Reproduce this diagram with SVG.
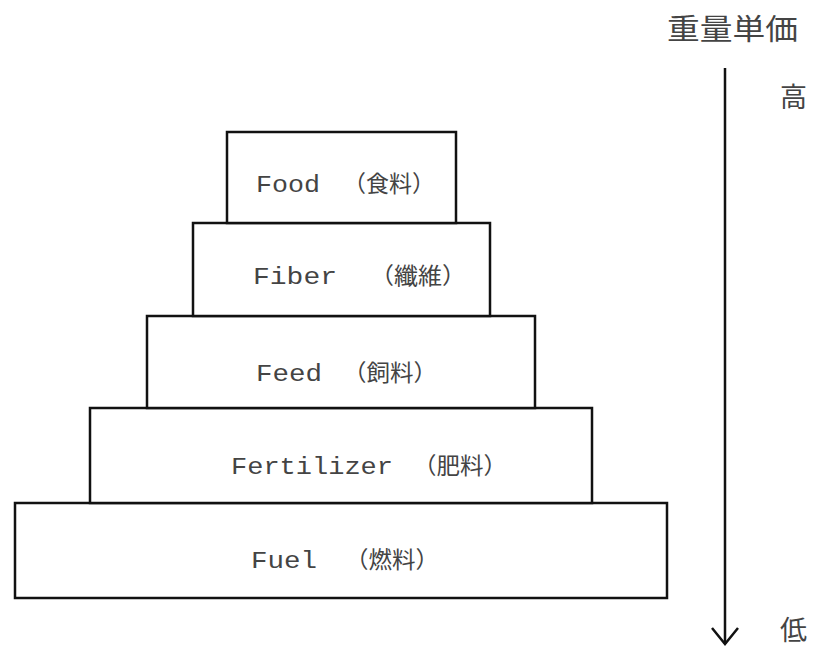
<svg xmlns="http://www.w3.org/2000/svg" width="813" height="649" viewBox="0 0 813 649">
<style>
.box{fill:#fff;stroke:#111;stroke-width:2.5}
.lbl{font-family:"Liberation Mono","Noto Sans CJK JP",monospace;font-size:23px;fill:#444}
.cjk{font-family:"Noto Sans CJK JP",sans-serif;fill:#444}
</style>
<rect width="813" height="649" fill="#fff"/>
<g id="fuel"><rect class="box" x="15" y="503" width="652" height="95"/>
<text class="lbl" y="568"><tspan x="251" textLength="66" lengthAdjust="spacingAndGlyphs">Fuel</tspan><tspan x="345" class="cjk" textLength="94" lengthAdjust="spacingAndGlyphs">（燃料）</tspan></text></g>
<g id="fertilizer"><rect class="box" x="90" y="408" width="502" height="95"/>
<text class="lbl" y="474"><tspan x="231" textLength="162" lengthAdjust="spacingAndGlyphs">Fertilizer</tspan><tspan x="413" class="cjk" textLength="94" lengthAdjust="spacingAndGlyphs">（肥料）</tspan></text></g>
<g id="feed"><rect class="box" x="147" y="316" width="388" height="92"/>
<text class="lbl" y="381"><tspan x="256" textLength="66" lengthAdjust="spacingAndGlyphs">Feed</tspan><tspan x="343" class="cjk" textLength="94" lengthAdjust="spacingAndGlyphs">（飼料）</tspan></text></g>
<g id="fiber"><rect class="box" x="193" y="223" width="297" height="93"/>
<text class="lbl" y="284"><tspan x="253" textLength="84" lengthAdjust="spacingAndGlyphs">Fiber</tspan><tspan x="370" class="cjk" textLength="96" lengthAdjust="spacingAndGlyphs">（纖維）</tspan></text></g>
<g id="food"><rect class="box" x="227" y="132" width="229" height="91"/>
<text class="lbl" y="192"><tspan x="256" textLength="64" lengthAdjust="spacingAndGlyphs">Food</tspan><tspan x="343" class="cjk" textLength="92" lengthAdjust="spacingAndGlyphs">（食料）</tspan></text></g>
<g id="axis">
<text class="cjk" x="667" y="40" font-size="29" textLength="131" lengthAdjust="spacingAndGlyphs">重量単価</text>
<text class="cjk" x="780" y="107" font-size="27">高</text>
<text class="cjk" x="780" y="640" font-size="27">低</text>
</g>
<g id="connectors" fill="none" stroke="#111" stroke-width="2.5">
<line x1="725" y1="68" x2="725" y2="644"/>
<polyline points="712,628 725,644 738,628"/>
</g>
</svg>
